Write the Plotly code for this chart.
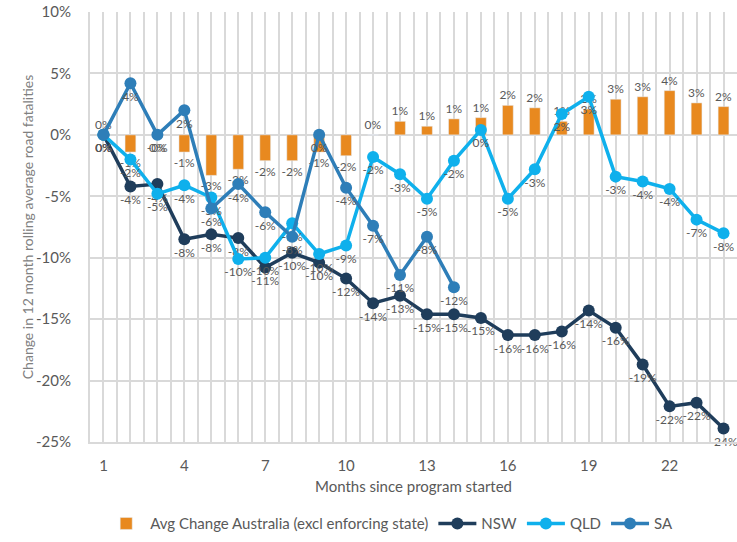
import plotly.graph_objects as go

months = list(range(1, 25))
avg_change = [0.0, -1.4, -0.2, -1.4, -3.3, -2.8, -2.1, -2.1, -1.4, -1.7, 0.0, 1.1,
              0.7, 1.3, 1.4, 2.4, 2.2, 1.1, 2.1, 2.9, 3.1, 3.6, 2.6, 2.3]
nsw = [0.0, -4.2, -4.0, -8.5, -8.1, -8.4, -10.8, -9.6, -10.4, -11.7, -13.7, -13.1,
       -14.6, -14.6, -14.9, -16.3, -16.3, -16.0, -14.3, -15.7, -18.7, -22.1, -21.8, -23.9]
qld = [0.0, -2.0, -4.8, -4.1, -5.1, -10.1, -10.0, -7.2, -9.7, -9.0, -1.8, -3.2,
       -5.2, -2.1, 0.4, -5.2, -2.8, 1.7, 3.1, -3.4, -3.8, -4.4, -6.9, -8.0]
sa = [0.0, 4.2, 0.0, 2.0, -6.0, -4.0, -6.3, -8.3, 0.0, -4.3, -7.4, -11.4, -8.3, -12.4]
sa_months = months[:len(sa)]
y_ticks = [10, 5, 0, -5, -10, -15, -20, -25]
x_ticks = [1, 4, 7, 10, 13, 16, 19, 22]

def labels(vals):
    return [f"{v:.0f}%" for v in vals]

FONT = "Lato"
GREY = "#595959"
GRID = "#d9d9d9"

fig = go.Figure()
fig.add_trace(go.Bar(
    x=months, y=avg_change, name="Avg Change Australia (excl enforcing state)",
    marker=dict(color="#E8891F"), width=0.4,
    text=labels(avg_change), textposition="outside", cliponaxis=False,
    constraintext="none",
    textfont=dict(family=FONT, size=12, color=GREY)))

for name, xs, ys, col in [("NSW", months, nsw, "#1F3D5B"),
                          ("QLD", months, qld, "#0FB0EC"),
                          ("SA", sa_months, sa, "#2E7EB8")]:
    fig.add_trace(go.Scatter(
        x=xs, y=ys, name=name, mode="lines+markers+text",
        line=dict(color=col, width=3.5), marker=dict(color=col, size=12),
        text=labels(ys), textposition="bottom center", cliponaxis=False,
        textfont=dict(family=FONT, size=12, color=GREY)))

fig.update_layout(
    width=737, height=542,
    margin=dict(l=90, r=0, t=12, b=100, autoexpand=False),
    paper_bgcolor="white", plot_bgcolor="white",
    font=dict(family=FONT, color=GREY),
    showlegend=True,
    legend=dict(orientation="h", x=0.464, xanchor="center", y=-0.19, yanchor="middle",
                font=dict(family=FONT, size=15, color=GREY), traceorder="normal",
                itemwidth=38),
    bargap=0.6,
    annotations=[dict(text="Change in 12 month rolling average road fatalities",
                      xref="paper", yref="paper", x=-0.097, y=0.5,
                      xanchor="center", yanchor="middle", textangle=-90,
                      showarrow=False, font=dict(family=FONT, size=14, color="#808080"))],
)
fig.update_xaxes(
    range=[0.5, 24.5], tickmode="array", tickvals=x_ticks, ticktext=[str(t) for t in x_ticks],
    showgrid=True, gridcolor=GRID, gridwidth=1.5, automargin=False,
    minor=dict(dtick=0.5, tick0=0.5, showgrid=True, gridcolor=GRID, gridwidth=1.5),
    ticks="outside", ticklen=9, tickcolor="rgba(0,0,0,0)",
    tickfont=dict(family=FONT, size=15, color=GREY),
    showline=True, linecolor=GRID, linewidth=2, zeroline=False,
    title=dict(text="Months since program started", standoff=8,
               font=dict(family=FONT, size=15, color=GREY)))
fig.update_yaxes(
    range=[-25, 10], tickmode="array", tickvals=y_ticks,
    ticktext=[f"{t}%" for t in y_ticks], automargin=False,
    showgrid=True, gridcolor=GRID, gridwidth=2, zeroline=False,
    ticks="outside", ticklen=14, tickcolor="rgba(0,0,0,0)",
    tickfont=dict(family=FONT, size=15, color=GREY),
    showline=True, linecolor=GRID, linewidth=2)

fig.write_html("out.html", config={"displayModeBar": False},
               post_script="document.body.style.margin='0';")
